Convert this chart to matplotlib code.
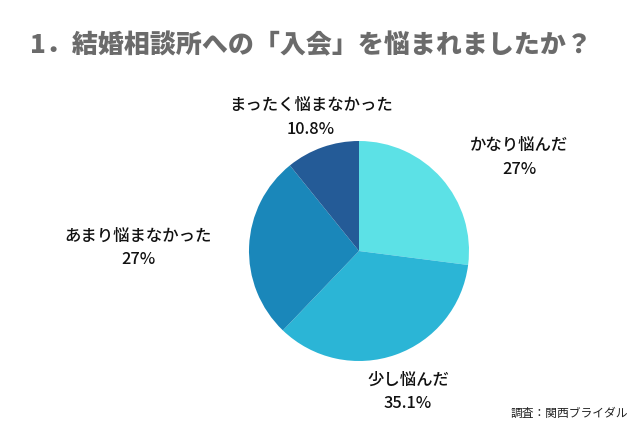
import matplotlib.pyplot as plt

plt.rcParams['font.family'] = ['Noto Sans CJK JP', 'DejaVu Sans']

# データ（時計回り、12時の位置から）
labels = ['かなり悩んだ', '少し悩んだ', 'あまり悩まなかった', 'まったく悩まなかった']
values = [27, 35.1, 27, 10.8]
pct_text = ['27%', '35.1%', '27%', '10.8%']
colors = ['#5ce1e6', '#2bb5d6', '#1a87ba', '#245b97']

title = '1．結婚相談所への「入会」を悩まれましたか？'
source = '調査：関西ブライダル'

W, H = 640, 426
fig = plt.figure(figsize=(W / 100, H / 100), dpi=100)
ax = fig.add_axes([0, 0, 1, 1])

ax.pie(values, colors=colors, startangle=90, counterclock=False,
       center=(359, H - 251), radius=110, normalize=True, frame=True,
       wedgeprops=dict(linewidth=0))

ax.set_xlim(0, W)
ax.set_ylim(0, H)
ax.set_aspect('equal')
ax.axis('off')

# ラベル位置（ピクセル、上から）
label_pos = [(519, 145), (408, 380), (138, 236), (311, 105)]
for lab, pct, (x, y) in zip(labels, pct_text, label_pos):
    ax.text(x, H - y, lab, ha='center', va='center', fontsize=11.8,
            fontweight='medium', color='#111111')
    ax.text(x, H - y - 24, pct, ha='center', va='center', fontsize=11.8,
            fontweight='medium', color='#111111')

ax.text(311, H - 45, title, ha='center', va='center', fontsize=18.7,
        fontweight='heavy', color='#6b6b6b')
ax.text(628, H - 413, source, ha='right', va='center', fontsize=8.5, color='#222222')

fig.savefig('out.png', dpi=100)
